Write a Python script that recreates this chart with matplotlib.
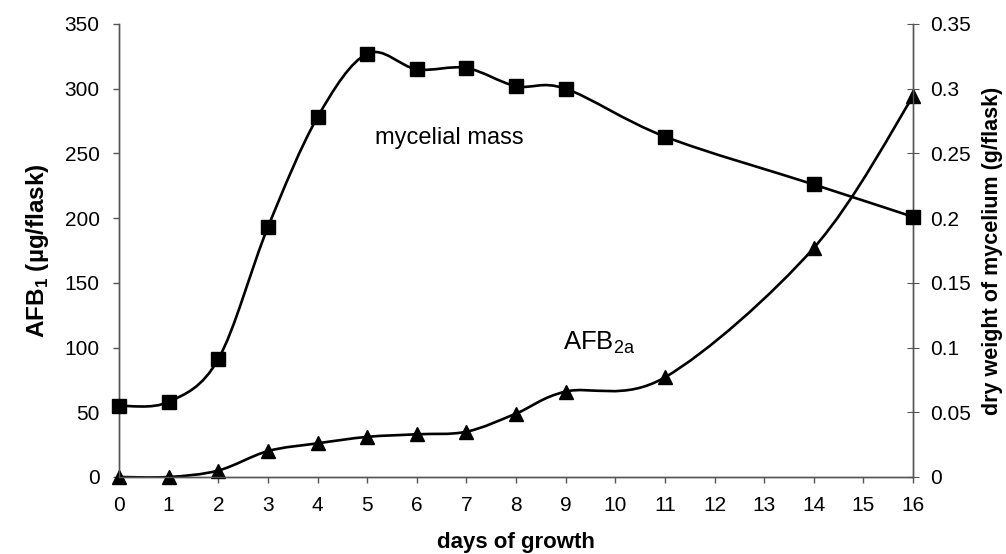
import numpy as np
import matplotlib
matplotlib.use("Agg")
import matplotlib.pyplot as plt
from matplotlib.path import Path
from matplotlib.patches import PathPatch
from matplotlib.ticker import FuncFormatter

plt.rcParams["font.family"] = ["Liberation Sans", "DejaVu Sans"]
plt.rcParams["mathtext.fontset"] = "custom"
plt.rcParams["mathtext.rm"] = "Liberation Sans"
plt.rcParams["mathtext.bf"] = "Liberation Sans:bold"

# data
days = [0, 1, 2, 3, 4, 5, 6, 7, 8, 9, 11, 14, 16]
afb2a = [0, 0, 5, 20, 26, 31, 33, 35, 49, 66, 77, 177, 294]          # ug/flask
mycelium = [0.055, 0.058, 0.091, 0.193, 0.278, 0.327, 0.315, 0.316,
            0.302, 0.300, 0.263, 0.226, 0.201]                         # g/flask


def smooth_path(x, y):
    # Excel-style smoothed line: cubic bezier through the points
    x = np.asarray(x, float)
    y = np.asarray(y, float)
    xp = np.concatenate([[x[0]], x, [x[-1]]])
    yp = np.concatenate([[y[0]], y, [y[-1]]])
    verts = [(x[0], y[0])]
    codes = [Path.MOVETO]
    for i in range(1, len(xp) - 2):
        c1 = (xp[i] + (xp[i + 1] - xp[i - 1]) / 6, yp[i] + (yp[i + 1] - yp[i - 1]) / 6)
        c2 = (xp[i + 1] - (xp[i + 2] - xp[i]) / 6, yp[i + 1] - (yp[i + 2] - yp[i]) / 6)
        verts += [c1, c2, (xp[i + 1], yp[i + 1])]
        codes += [Path.CURVE4] * 3
    return Path(verts, codes)


fig = plt.figure(figsize=(10.06, 5.54), dpi=100)
ax = fig.add_axes([0.1183, 0.139, 0.7893, 0.8177])
ax2 = ax.twinx()

ax.add_patch(PathPatch(smooth_path(days, afb2a), fill=False, lw=1.9, color="black"))
ax.plot(days, afb2a, ls="none", marker="^", ms=10, color="black", clip_on=False, zorder=5)

ax2.add_patch(PathPatch(smooth_path(days, mycelium), fill=False, lw=1.9, color="black"))
ax2.plot(days, mycelium, ls="none", marker="s", ms=9.5, color="black", clip_on=False, zorder=5)

ax.set_xlim(0, 16)
ax.set_ylim(0, 350)
ax2.set_ylim(0, 0.35)
ax.set_xticks(range(0, 17))
ax.set_yticks(range(0, 351, 50))
ax2.set_yticks(np.arange(0, 0.351, 0.05))
ax2.yaxis.set_major_formatter(FuncFormatter(lambda v, p: "%g" % round(v, 2)))

for a in (ax, ax2):
    a.spines["top"].set_visible(False)
    for s in a.spines.values():
        s.set_color("#555555")
        s.set_linewidth(1.0)

ax.tick_params(axis="both", labelsize=15, color="#555555", length=4, width=1)
ax.tick_params(axis="x", direction="out", pad=10)
ax.tick_params(axis="y", direction="out", pad=10)
ax2.tick_params(axis="y", direction="inout", length=8, labelsize=15, color="#555555", pad=8)

ax.set_ylabel(r"AFB$_\mathbf{1}$ (µg/flask)", fontsize=17.5, fontweight="bold", labelpad=10)
ax2.set_ylabel("dry weight of mycelium (g/flask)", fontsize=15.5, fontweight="bold", labelpad=8)
ax.set_xlabel("days of growth", fontsize=16, fontweight="bold", labelpad=12)

ax.text(5.15, 262, "mycelial mass", fontsize=17, va="center", ha="left")
ax.text(8.95, 104, r"AFB$_{\mathrm{2a}}$", fontsize=18.5, va="center", ha="left")

fig.savefig("out.png", dpi=100)
